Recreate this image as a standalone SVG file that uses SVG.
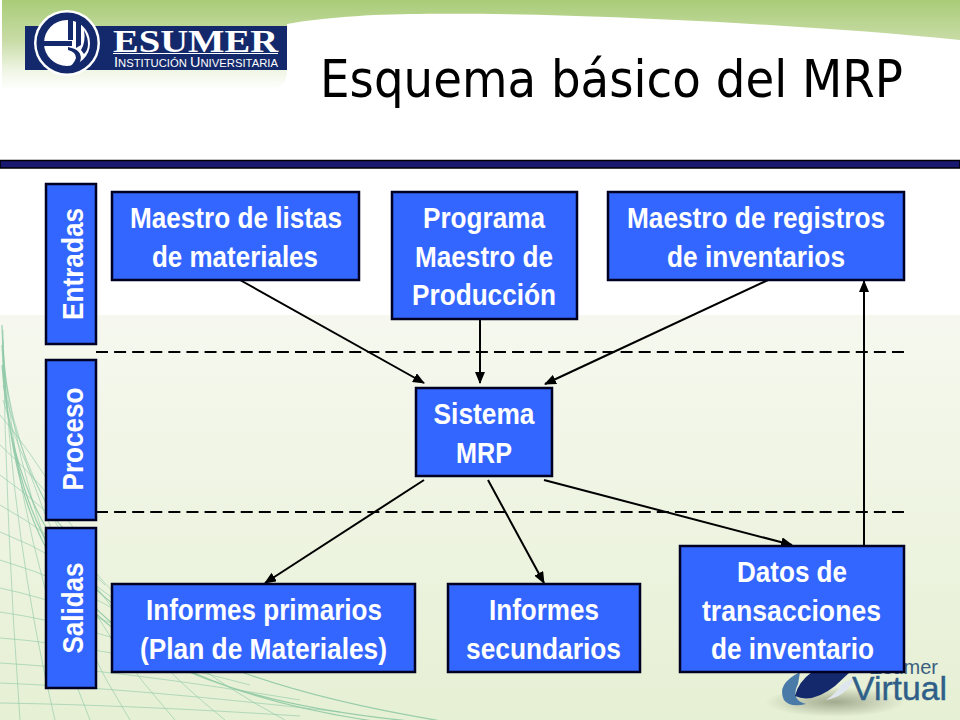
<svg xmlns="http://www.w3.org/2000/svg" width="960" height="720" viewBox="0 0 960 720">
<style>
.box{fill:#3366ff;stroke:#000022;stroke-width:2.5}
.t{font-family:"Liberation Sans",Arial,sans-serif;font-weight:700;font-size:30px;fill:#fff;text-anchor:middle}
.c{stroke:#000;stroke-width:2;fill:none;marker-end:url(#a)}
.d{stroke:#000;stroke-width:2;fill:none;stroke-dasharray:12 6.09}
.m{stroke:#8cc8a6;stroke-width:1;fill:none;opacity:.6}
.e{stroke:#7cc09a;stroke-width:1.2;fill:none;opacity:.75}
</style>
<defs>
<marker id="a" markerUnits="userSpaceOnUse" markerWidth="12" markerHeight="10" refX="11" refY="5" orient="auto"><path d="M0 0L12 5L0 10z" fill="#000"/></marker>
<linearGradient id="top" gradientUnits="userSpaceOnUse" x1="0" y1="0" x2="0" y2="90"><stop offset="0" stop-color="#a9cc78"/><stop offset=".45" stop-color="#c8dca6"/><stop offset=".78" stop-color="#eff5e4"/><stop offset="1" stop-color="#fff"/></linearGradient>
<linearGradient id="low" x1="0" y1="0" x2="0" y2="1"><stop offset="0" stop-color="#f6f8ef"/><stop offset="1" stop-color="#e6f0d4"/></linearGradient>
<radialGradient id="sh"><stop offset="0" stop-color="#7d8468" stop-opacity=".65"/><stop offset="1" stop-color="#7d8468" stop-opacity="0"/></radialGradient>
</defs>
<g id="background">
<rect width="960" height="720" fill="#fff"/>
<path d="M2 0H960V40C800 24 560 12 420 14C370 14 320 18 287 24V70Q287 88 270 90H2z" fill="url(#top)"/>
<rect x="0" y="315" width="960" height="405" fill="url(#low)"/>
</g>
<g id="mesh">
<path class="e" d="M2 325C8 560 70 690 420 722M2 345C12 560 90 680 380 722M2 365C16 560 110 670 460 724"/>
<path class="m" d="M3 330Q6 530 20 720M3 340Q12 540 55 720M3 350Q20 550 90 720M3 360Q30 560 130 720M3 370Q40 570 175 720M3 385Q50 580 225 720M3 400Q60 600 285 720"/>
<path class="m" d="M0 415Q30 450 60 500M0 445Q40 480 75 530M0 475Q50 510 95 560M0 505Q55 535 105 585M0 532Q60 555 115 600M0 560Q70 580 140 625M0 588Q80 605 170 650M0 612Q90 625 200 668M0 638Q100 645 250 685M0 663Q120 670 300 700M0 683Q130 688 340 712M0 703Q130 705 300 716"/>
</g>
<g id="logo">
<rect x="25" y="26" width="262" height="44" fill="#14296b"/>
<circle cx="67" cy="43" r="33" fill="#fff"/>
<circle cx="67" cy="43" r="26" fill="#fff" stroke="#14296b" stroke-width="6"/>
<circle cx="67" cy="43" r="29" fill="none" stroke="#14296b" stroke-width="3"/>
<path d="M39 41H72V46H39zM68 14H73V40H68zM76 22H81V45L76 48zM84 30Q92 46 84 54L81 50Q86 42 84 30zM68 47Q84 50 80 62Q76 70 68 72V68Q74 64 76 58Q76 52 68 50z" fill="#14296b"/>
<text x="113" y="52" font-family="'Liberation Serif',serif" font-weight="700" font-size="31" fill="#fff" textLength="165" lengthAdjust="spacingAndGlyphs">ESUMER</text>
<rect x="113" y="53" width="165" height="1" fill="#fff"/>
<text x="114" y="67" font-family="'Liberation Sans',sans-serif" font-size="11" fill="#fff" textLength="164" lengthAdjust="spacingAndGlyphs"><tspan font-size="14">I</tspan>NSTITUCIÓN <tspan font-size="14">U</tspan>NIVERSITARIA</text>
</g>
<g id="virtual-logo">
<ellipse cx="835" cy="702" rx="70" ry="15" fill="url(#sh)"/>
<path d="M800 672Q776 684 784 700Q790 708 806 704Q790 700 798 684z" fill="#4a7aa8"/>
<path d="M826 700Q848 696 855 676L842 684Q836 694 826 700z" fill="#dfe6ee"/>
<path d="M795 696Q812 704 835 686L850 672H812Q798 682 795 696z" fill="#14296b"/>
<text x="938" y="674" text-anchor="end" font-family="'Liberation Sans',sans-serif" font-size="20" fill="#3b5f80">Esumer</text>
<text x="852" y="700" font-family="'Liberation Sans',sans-serif" font-size="33" fill="#2f5f88" stroke="#2f5f88" stroke-width=".4" textLength="95" lengthAdjust="spacingAndGlyphs">Virtual</text>
</g>
<text id="title" x="320" y="97" font-family="'DejaVu Sans',Verdana,sans-serif" font-size="51" fill="#000" textLength="583" lengthAdjust="spacingAndGlyphs">Esquema básico del MRP</text>
<rect id="rule" x="0" y="160.500" width="960" height="7.500" fill="#191970" stroke="#000" stroke-width="1.500"/>
<g id="dividers">
<path class="d" d="M96 352H904"/><path class="d" d="M96 512H904"/>
</g>
<g id="connectors">
<path class="c" d="M240 280L424 383"/>
<path class="c" d="M480 319V383"/>
<path class="c" d="M768 280L545 384"/>
<path class="c" d="M424 480L265 583"/>
<path class="c" d="M488 480L544 583"/>
<path class="c" d="M544 480L792 545"/>
<path class="c" d="M864 545V281"/>
</g>
<g id="entradas"><rect class="box" x="46" y="184" width="50" height="160"/><text class="t" transform="translate(83 264) rotate(-90)" textLength="112" lengthAdjust="spacingAndGlyphs">Entradas</text></g>
<g id="proceso"><rect class="box" x="46" y="360" width="50" height="160"/><text class="t" transform="translate(83 439) rotate(-90)" textLength="103" lengthAdjust="spacingAndGlyphs">Proceso</text></g>
<g id="salidas"><rect class="box" x="46" y="528" width="50" height="160"/><text class="t" transform="translate(83 608) rotate(-90)" textLength="91" lengthAdjust="spacingAndGlyphs">Salidas</text></g>
<g id="maestro-listas"><rect class="box" x="112" y="192" width="247" height="88"/><text class="t" x="236" y="228" textLength="212" lengthAdjust="spacingAndGlyphs">Maestro de listas</text><text class="t" x="235" y="267" textLength="166" lengthAdjust="spacingAndGlyphs">de materiales</text></g>
<g id="programa"><rect class="box" x="392" y="192" width="185" height="127"/><text class="t" x="484" y="228" textLength="122" lengthAdjust="spacingAndGlyphs">Programa</text><text class="t" x="484" y="267" textLength="138" lengthAdjust="spacingAndGlyphs">Maestro de</text><text class="t" x="484" y="305" textLength="144" lengthAdjust="spacingAndGlyphs">Producción</text></g>
<g id="maestro-registros"><rect class="box" x="608" y="192" width="296" height="88"/><text class="t" x="756" y="228" textLength="258" lengthAdjust="spacingAndGlyphs">Maestro de registros</text><text class="t" x="756" y="267" textLength="178" lengthAdjust="spacingAndGlyphs">de inventarios</text></g>
<g id="sistema"><rect class="box" x="416" y="388" width="136" height="88"/><text class="t" x="484" y="424" textLength="101" lengthAdjust="spacingAndGlyphs">Sistema</text><text class="t" x="484" y="463" textLength="56" lengthAdjust="spacingAndGlyphs">MRP</text></g>
<g id="informes-primarios"><rect class="box" x="112" y="584" width="303" height="88"/><text class="t" x="264" y="620" textLength="236" lengthAdjust="spacingAndGlyphs">Informes primarios</text><text class="t" x="263.500" y="659" textLength="247" lengthAdjust="spacingAndGlyphs">(Plan de Materiales)</text></g>
<g id="informes-secundarios"><rect class="box" x="448" y="584" width="192" height="88"/><text class="t" x="544" y="620" textLength="110" lengthAdjust="spacingAndGlyphs">Informes</text><text class="t" x="543.500" y="659" textLength="155" lengthAdjust="spacingAndGlyphs">secundarios</text></g>
<g id="datos"><rect class="box" x="680" y="546" width="224" height="126"/><text class="t" x="792" y="582" textLength="110" lengthAdjust="spacingAndGlyphs">Datos de</text><text class="t" x="791.500" y="621" textLength="179" lengthAdjust="spacingAndGlyphs">transacciones</text><text class="t" x="792.500" y="659" textLength="163" lengthAdjust="spacingAndGlyphs">de inventario</text></g>
</svg>
